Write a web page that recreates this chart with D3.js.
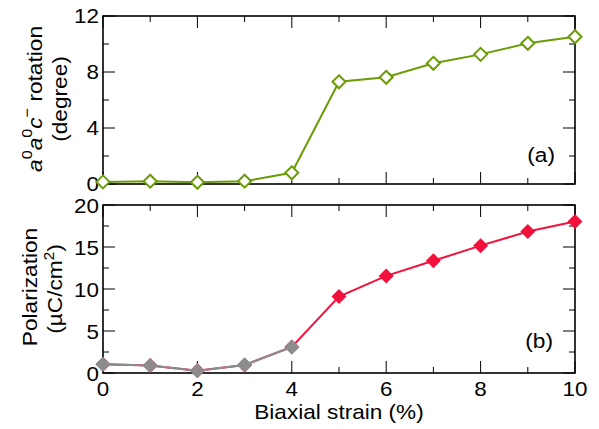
<!DOCTYPE html>
<html><head><meta charset="utf-8">
<script src="https://cdn.jsdelivr.net/npm/d3@7"></script>
<style>
body{margin:0;background:#fff;}
svg text{font-family:"Liberation Sans",Arial,Helvetica,sans-serif;fill:#000;}
</style></head>
<body><svg id="c" width="599" height="429"></svg>
<script>
const strain = [0,1,2,3,4,5,6,7,8,9,10];
const rotation = [0.15,0.2,0.12,0.2,0.8,7.3,7.62,8.62,9.26,10.05,10.52];
const polarization = [1.04,0.88,0.28,0.96,3.1,9.1,11.56,13.36,15.16,16.84,18.04];
const grayStrain = [0,1,2,3,4];
const grayPol = [1.04,0.88,0.28,0.96,3.1];
const xTicks = [0,2,4,6,8,10];
const rotTicks = [0,4,8,12];
const polTicks = [0,5,10,15,20];

const svg = d3.select("#c");
const L=103,R=575;
const FS=21, SX=1.08, TFS=20, TSX=1.12;
const x = d3.scaleLinear().domain([0,10]).range([L,R]);
const yA = d3.scaleLinear().domain([0,12]).range([184,16]);
const yB = d3.scaleLinear().domain([0,20]).range([373,205]);

function txt(px,py,s,anchor,rot,fs,sx){
  return svg.append("text")
    .attr("transform",`translate(${px},${py})${rot?` rotate(${rot})`:""} scale(${sx||SX},1)`)
    .attr("text-anchor",anchor).attr("font-size",fs||FS).text(s);
}

function panel(y, majors, minorStep, showX, off){
  const g = svg.append("g");
  const [y0,y1] = y.range();
  d3.range(0,10.01,1).forEach(v=>{
    const len = v%2===0?12:6;
    g.append("line").attr("x1",x(v)).attr("x2",x(v)).attr("y1",y0).attr("y2",y0-len).attr("stroke","#000").attr("stroke-width",1);
    g.append("line").attr("x1",x(v)).attr("x2",x(v)).attr("y1",y1).attr("y2",y1+len).attr("stroke","#000").attr("stroke-width",1);
  });
  const dom = y.domain();
  d3.range(dom[0],dom[1]+0.01,minorStep).forEach(v=>{
    const len = majors.includes(v)?12:6;
    g.append("line").attr("x1",L).attr("x2",L+len).attr("y1",y(v)).attr("y2",y(v)).attr("stroke","#000").attr("stroke-width",1);
    g.append("line").attr("x1",R).attr("x2",R-len).attr("y1",y(v)).attr("y2",y(v)).attr("stroke","#000").attr("stroke-width",1);
  });
  g.append("rect").attr("x",L).attr("y",y1).attr("width",R-L).attr("height",y0-y1).attr("fill","none").attr("stroke","#000").attr("stroke-width",1.6);
  majors.forEach(v=>{ txt(L-4,y(v)+off,v,"end",0,TFS,TSX); });
  if(showX){
    xTicks.forEach(v=>{ txt(x(v),y0+23,v,"middle",0,TFS,TSX); });
  }
}
panel(yA,rotTicks,2,false,6.5);
panel(yB,polTicks,2.5,true,8);

function diamond(cx,cy,r){return `M${cx},${cy-r}L${cx+r},${cy}L${cx},${cy+r}L${cx-r},${cy}Z`;}

const green="#6b9c08";
svg.append("path").attr("d",d3.line().x((d,i)=>x(strain[i])).y(d=>yA(d))(rotation))
  .attr("fill","none").attr("stroke",green).attr("stroke-width",2);
rotation.forEach((d,i)=>{
  svg.append("path").attr("d",diamond(x(strain[i]),yA(d),6.5)).attr("fill","#fff").attr("stroke",green).attr("stroke-width",2);
});

const red="#f2103c", gray="#8c8c8c";
svg.append("path").attr("d",d3.line().x((d,i)=>x(strain[i])).y(d=>yB(d))(polarization))
  .attr("fill","none").attr("stroke",red).attr("stroke-width",2);
polarization.forEach((d,i)=>{
  svg.append("path").attr("d",diamond(x(strain[i]),yB(d),7.5)).attr("fill",red);
});
svg.append("path").attr("d",d3.line().x((d,i)=>x(grayStrain[i])).y(d=>yB(d))(grayPol))
  .attr("fill","none").attr("stroke",gray).attr("stroke-width",2);
grayPol.forEach((d,i)=>{
  svg.append("path").attr("d",diamond(x(grayStrain[i]),yB(d),7.5)).attr("fill",gray);
});

txt(555,162,"(a)","end");
txt(553,348,"(b)","end");
txt(339,419,"Biaxial strain (%)","middle",0,20,1.13);

const t1 = txt(42,99,"","middle",-90);
t1.append("tspan").attr("font-style","italic").text("a");
t1.append("tspan").attr("dy",-10).attr("font-size",15).text("0");
t1.append("tspan").attr("dy",10).attr("font-style","italic").text("a");
t1.append("tspan").attr("dy",-10).attr("font-size",15).text("0");
t1.append("tspan").attr("dy",10).attr("font-style","italic").text("c");
t1.append("tspan").attr("dy",-10).attr("font-size",15).text("\u2212");
t1.append("tspan").attr("dy",10).text(" rotation");
txt(67,99,"(degree)","middle",-90);

txt(37,287,"Polarization","middle",-90);
const t2 = txt(62,289,"","middle",-90);
t2.append("tspan").text("(\u00b5C/cm");
t2.append("tspan").attr("dy",-8).attr("font-size",14).text("2");
t2.append("tspan").attr("dy",8).text(")");
</script></body></html>
